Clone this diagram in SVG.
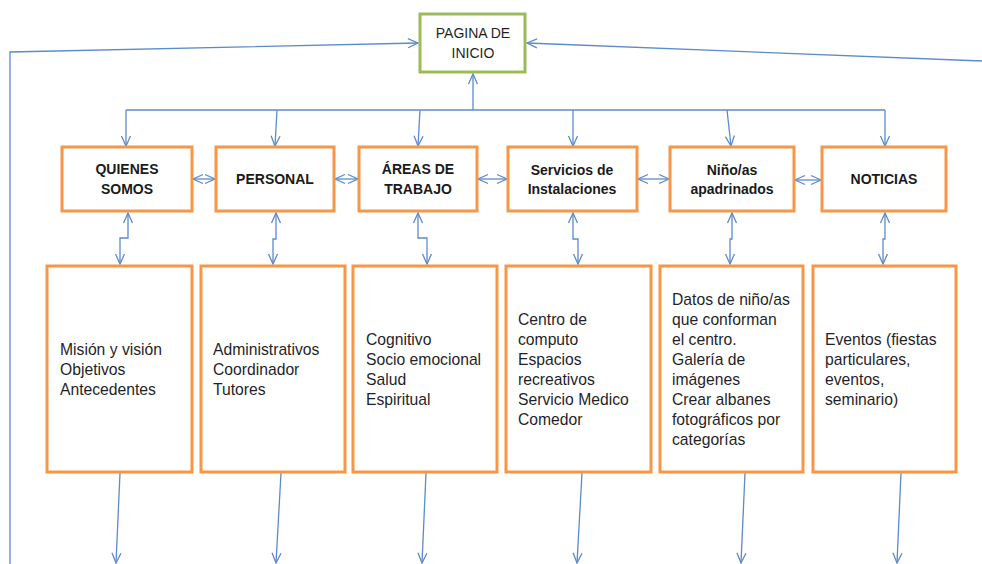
<svg xmlns="http://www.w3.org/2000/svg" width="982" height="564" viewBox="0 0 982 564">
<style>
.cn{fill:none;stroke:#5b8bcb;stroke-width:1.3}
.a{marker-end:url(#ah)}
.d{marker-start:url(#ah);marker-end:url(#ah)}
.top{fill:#fff;stroke:#f79646;stroke-width:3}
.bot{fill:#fff;stroke:#f79646;stroke-width:3}
.home{fill:#fff;stroke:#9bbb59;stroke-width:3}
.h{font-family:"Liberation Sans",Arial,sans-serif;font-size:14px;font-weight:bold;fill:#1a1a1a;text-anchor:middle}
.t{font-family:"Liberation Sans",Arial,sans-serif;font-size:15.7px;fill:#1f1f2a}
.p{font-family:"Liberation Sans",Arial,sans-serif;font-size:14px;fill:#1f1f2a;text-anchor:middle}
</style>
<defs>
<marker id="ah" viewBox="0 0 12 12" refX="11" refY="6" markerWidth="12" markerHeight="12" markerUnits="userSpaceOnUse" orient="auto-start-reverse">
<path d="M1,1.5 L11,6 L1,10.5" fill="none" stroke="#5b8bcb" stroke-width="1.3"/>
</marker>
</defs>
<rect width="982" height="564" fill="#fff"/>
<g id="connectors">
<path class="cn a" d="M10,564 L10,52 L418,43"/>
<path class="cn a" d="M982,61 L527,43"/>
<path class="cn" d="M126,110 L885,110"/>
<path class="cn a" d="M473,110 L473,74"/>
<path class="cn a" d="M126,110 L126,146"/>
<path class="cn a" d="M277,110 L275,146"/>
<path class="cn a" d="M420,110 L418,146"/>
<path class="cn a" d="M573,110 L573,146"/>
<path class="cn a" d="M727,110 L731,146"/>
<path class="cn a" d="M885,110 L885,146"/>
<path class="cn d" d="M193,179 L215,179"/>
<path class="cn d" d="M335,179 L358,179"/>
<path class="cn d" d="M478,179 L507,179"/>
<path class="cn d" d="M638,179 L669,179"/>
<path class="cn d" d="M795,180 L821,180"/>
<path class="cn d" d="M128,213 V238 H120 V264"/>
<path class="cn d" d="M276,213 V239 H273 V264"/>
<path class="cn d" d="M418,213 V238 H427 V264"/>
<path class="cn d" d="M573,213 V239 H578 V264"/>
<path class="cn d" d="M732,213 V239 H730 V264"/>
<path class="cn d" d="M885,213 V239 H883 V264"/>
<path class="cn a" d="M120,473 L116,563"/>
<path class="cn a" d="M281,473 L276,563"/>
<path class="cn a" d="M426,473 L422,563"/>
<path class="cn a" d="M582,473 L577,563"/>
<path class="cn a" d="M745,473 L741,563"/>
<path class="cn a" d="M901,473 L897,563"/>
</g>
<g id="inicio">
<rect class="home" x="420" y="14" width="105" height="58"/>
<text class="p" x="473" y="38">PAGINA DE</text>
<text class="p" x="473" y="58">INICIO</text>
</g>
<g id="quienes">
<rect class="top" x="62" y="147" width="130" height="64"/>
<text class="h" x="127" y="174">QUIENES</text>
<text class="h" x="127" y="194">SOMOS</text>
</g>
<g id="personal">
<rect class="top" x="216" y="147" width="118" height="64"/>
<text class="h" x="275" y="184">PERSONAL</text>
</g>
<g id="areas">
<rect class="top" x="359" y="147" width="118" height="64"/>
<text class="h" x="418" y="174">ÁREAS DE</text>
<text class="h" x="418" y="194">TRABAJO</text>
</g>
<g id="servicios">
<rect class="top" x="508" y="147" width="129" height="64"/>
<text class="h" x="572" y="175">Servicios de</text>
<text class="h" x="572" y="194">Instalaciones</text>
</g>
<g id="ninos">
<rect class="top" x="670" y="147" width="124" height="64"/>
<text class="h" x="732" y="175">Niño/as</text>
<text class="h" x="732" y="194">apadrinados</text>
</g>
<g id="noticias">
<rect class="top" x="822" y="147" width="124" height="64"/>
<text class="h" x="884" y="184">NOTICIAS</text>
</g>
<g id="quienes-det">
<rect class="bot" x="47" y="266" width="145" height="206"/>
<text class="t" x="60" y="355">Misión y visión</text>
<text class="t" x="60" y="375">Objetivos</text>
<text class="t" x="60" y="395">Antecedentes</text>
</g>
<g id="personal-det">
<rect class="bot" x="201" y="266" width="144" height="206"/>
<text class="t" x="213" y="355">Administrativos</text>
<text class="t" x="213" y="375">Coordinador</text>
<text class="t" x="213" y="395">Tutores</text>
</g>
<g id="areas-det">
<rect class="bot" x="353" y="266" width="144" height="206"/>
<text class="t" x="366" y="345">Cognitivo</text>
<text class="t" x="366" y="365">Socio emocional</text>
<text class="t" x="366" y="385">Salud</text>
<text class="t" x="366" y="405">Espiritual</text>
</g>
<g id="servicios-det">
<rect class="bot" x="506" y="266" width="145" height="206"/>
<text class="t" x="518" y="325">Centro de</text>
<text class="t" x="518" y="345">computo</text>
<text class="t" x="518" y="365">Espacios</text>
<text class="t" x="518" y="385">recreativos</text>
<text class="t" x="518" y="405">Servicio Medico</text>
<text class="t" x="518" y="425">Comedor</text>
</g>
<g id="ninos-det">
<rect class="bot" x="660" y="266" width="143" height="206"/>
<text class="t" x="672" y="305">Datos de niño/as</text>
<text class="t" x="672" y="325">que conforman</text>
<text class="t" x="672" y="345">el centro.</text>
<text class="t" x="672" y="365">Galería de</text>
<text class="t" x="672" y="385">imágenes</text>
<text class="t" x="672" y="405">Crear albanes</text>
<text class="t" x="672" y="425">fotográficos por</text>
<text class="t" x="672" y="445">categorías</text>
</g>
<g id="noticias-det">
<rect class="bot" x="813" y="266" width="143" height="206"/>
<text class="t" x="825" y="345">Eventos (fiestas</text>
<text class="t" x="825" y="365">particulares,</text>
<text class="t" x="825" y="385">eventos,</text>
<text class="t" x="825" y="405">seminario)</text>
</g>
</svg>
